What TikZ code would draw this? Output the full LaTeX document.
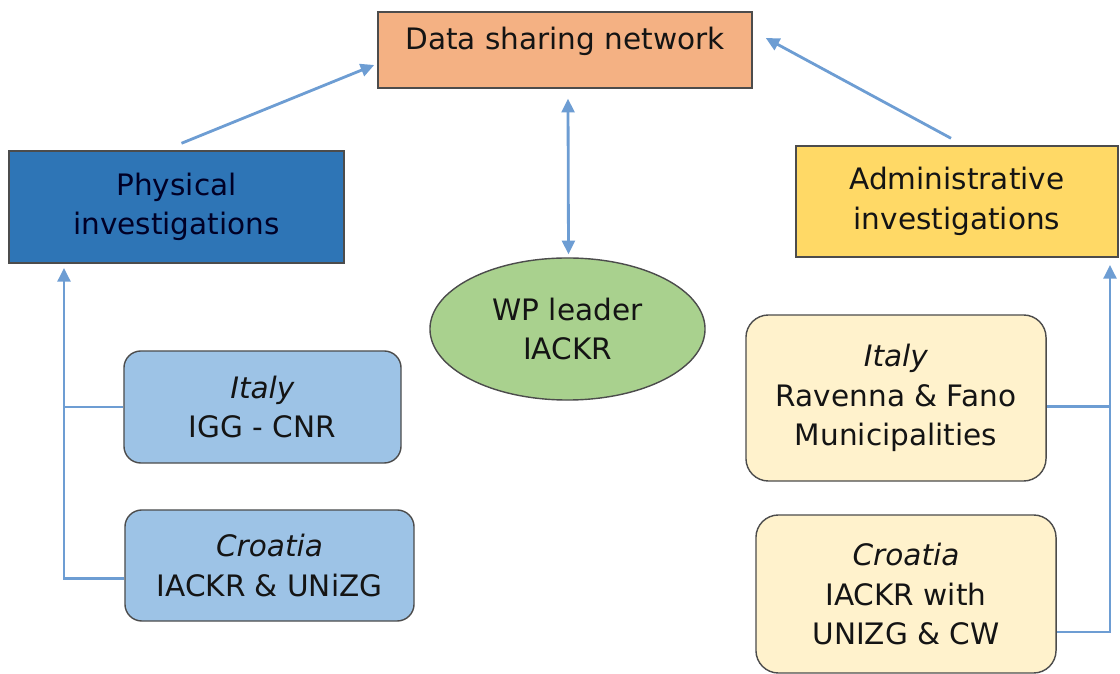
\documentclass[tikz,border=0pt]{standalone}
\usepackage{fontspec}
\setmainfont{DejaVu Sans}
\usepackage{xcolor}
\usetikzlibrary{positioning,arrows.meta,shapes.geometric}

\definecolor{arrblue}{HTML}{6D9DD3}
\definecolor{netorange}{HTML}{F4B183}
\definecolor{physblue}{HTML}{2E75B6}
\definecolor{admgold}{HTML}{FFD966}
\definecolor{wpgreen}{HTML}{A9D18E}
\definecolor{subblue}{HTML}{9DC3E6}
\definecolor{subcream}{HTML}{FFF2CC}

\begin{document}
\begin{tikzpicture}[x=0.025cm,y=-0.025cm,
 font=\fontsize{21}{28}\selectfont,
 b/.style={draw=black!70,line width=1pt,align=center,inner sep=2pt,text=black!92},
 sb/.style={b,rounded corners=12pt},
 a/.style={-{Triangle[length=3.4mm,width=3.2mm]},line width=2pt,arrblue},
 aa/.style={{Triangle[length=3.4mm,width=3.2mm]}-{Triangle[length=3.4mm,width=3.2mm]},line width=2pt,arrblue},
 ln/.style={line width=2pt,arrblue}]
\useasboundingbox (0,0) rectangle (1120,674);
\node[b,fill=netorange,minimum width=9.35cm,minimum height=1.9cm,
 text height=0.6cm,text depth=0.6cm] (net) at (565,50) {Data sharing network};
\node[b,fill=physblue,text=blue!15!black,minimum width=8.375cm,minimum height=2.8cm] (phys) at (176.5,207) {Physical\\investigations};
\node[b,fill=admgold,minimum width=8.05cm,minimum height=2.775cm] (adm) at (957,201.5) {Administrative\\investigations};
\node[b,ellipse,fill=wpgreen,minimum width=6.875cm,minimum height=3.55cm,inner sep=0pt] (wp) at (567.5,329) {WP leader\\IACKR};
\node[sb,fill=subblue,minimum width=6.925cm,minimum height=2.8cm] (lit) at (262.5,407) {\textit{Italy}\\IGG - CNR};
\node[sb,fill=subblue,minimum width=7.225cm,minimum height=2.775cm] (lcro) at (269.5,565.5) {\textit{Croatia}\\IACKR \& UNiZG};
\node[sb,fill=subcream,rounded corners=16pt,minimum width=7.5cm,minimum height=4.15cm] (rit) at (896,398) {\textit{Italy}\\Ravenna \& Fano\\Municipalities};
\node[sb,fill=subcream,rounded corners=16pt,minimum width=7.5cm,minimum height=3.95cm] (rcro) at (906,594) {\textit{Croatia}\\IACKR with\\UNIZG \& CW};
\coordinate (lbus) at (64,268);
\coordinate (rbus) at (1110,265);
\draw[a] ([shift={(5,-7)}]phys.north) -- ([shift={(-3,15)}]net.west);
\draw[a] ([shift={(-6,-7)}]adm.north) -- ([shift={(13,-12)}]net.east);
\draw[aa] ([shift={(3,10)}]net.south) -- ([shift={(1,-3)}]wp.north);
\draw[a] ([yshift=-3.2mm]lcro.west) -| (lbus);
\draw[ln] (lit.west) -- (lit.west -| lbus);
\draw[a] ([yshift=-9.5mm]rcro.east) -| (rbus);
\draw[ln] ([yshift=-2.2mm]rit.east) -- ([yshift=-2.2mm]rit.east -| rbus);
\end{tikzpicture}
\end{document}
